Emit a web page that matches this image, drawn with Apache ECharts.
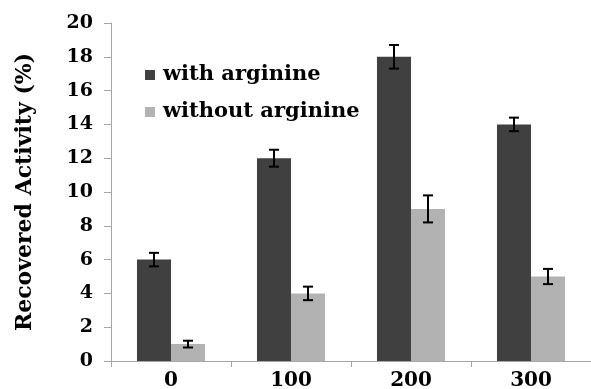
<!DOCTYPE html>
<html>
<head>
<meta charset="utf-8">
<script src="https://cdn.jsdelivr.net/npm/echarts@6/dist/echarts.min.js"></script>
<style>
  html, body { margin: 0; padding: 0; background: #fff; }
  #chart { width: 591px; height: 389px; }
</style>
</head>
<body>
<div id="chart"></div>
<script>
const categories = ["0", "100", "200", "300"];
const withArginine = [6, 12, 18, 14];
const withoutArginine = [1, 4, 9, 5];
const withArginineErr = [0.4, 0.5, 0.7, 0.4];
const withoutArginineErr = [0.2, 0.4, 0.8, 0.45];
const yTicks = [0, 2, 4, 6, 8, 10, 12, 14, 16, 18, 20];

const FONT = "'DejaVu Serif', 'Liberation Serif', serif";
const AXIS_GRAY = "#a6a6a6";
const CAT_GAP = 0.433;

// [category index, low, high] for the custom error bar series
const errData = (vals, errs) => vals.map((v, i) => [i, v - errs[i], v + errs[i]]);

// side = -1 for the left bar of the pair, +1 for the right one
const errRender = (side) => (params, api) => {
  const idx = api.value(0);
  const lo = api.coord([idx, api.value(1)]);
  const hi = api.coord([idx, api.value(2)]);
  const band = api.size([1, 0])[0];
  const barW = band * (1 - CAT_GAP) / 2;
  const cx = lo[0] + side * barW / 2;
  const cap = 5;
  const style = { stroke: "#000", lineWidth: 2 };
  return {
    type: "group",
    children: [
      { type: "line", shape: { x1: cx, y1: hi[1], x2: cx, y2: lo[1] }, style },
      { type: "line", shape: { x1: cx - cap, y1: hi[1], x2: cx + cap, y2: hi[1] }, style },
      { type: "line", shape: { x1: cx - cap, y1: lo[1], x2: cx + cap, y2: lo[1] }, style },
    ],
  };
};

const chart = echarts.init(document.getElementById("chart"));
chart.setOption({
  animation: false,
  textStyle: { fontFamily: FONT },
  grid: { left: 111, right: 0, top: 23, bottom: 28, containLabel: false, outerBoundsMode: "none" },
  legend: {
    orient: "vertical",
    left: 145,
    top: 63,
    padding: 0,
    itemWidth: 10,
    itemHeight: 10,
    itemGap: 13,
    icon: "rect",
    data: ["with arginine", "without arginine"],
    textStyle: {
      fontFamily: FONT, fontWeight: "bold", fontSize: 21, color: "#000",
      lineHeight: 24, padding: [0, 0, 0, 3],
    },
  },
  xAxis: {
    type: "category",
    data: categories,
    axisLine: { lineStyle: { color: AXIS_GRAY, width: 1 } },
    axisTick: { show: true, length: 6, lineStyle: { color: AXIS_GRAY } },
    axisLabel: { color: "#000", fontFamily: FONT, fontWeight: "bold", fontSize: 20, margin: 10 },
  },
  yAxis: {
    type: "value",
    min: yTicks[0],
    max: yTicks[yTicks.length - 1],
    interval: yTicks[1] - yTicks[0],
    name: "Recovered Activity (%)",
    nameLocation: "middle",
    nameGap: 75,
    nameRotate: 90,
    nameTextStyle: { color: "#000", fontFamily: FONT, fontWeight: "bold", fontSize: 22 },
    splitLine: { show: false },
    axisLine: { show: true, lineStyle: { color: AXIS_GRAY, width: 1 } },
    axisTick: { show: true, length: 7, lineStyle: { color: AXIS_GRAY } },
    axisLabel: { color: "#000", fontFamily: FONT, fontWeight: "bold", fontSize: 19, margin: 18 },
  },
  series: [
    {
      name: "with arginine",
      type: "bar",
      data: withArginine,
      barGap: "0%",
      barCategoryGap: (CAT_GAP * 100) + "%",
      itemStyle: { color: "#404040" },
    },
    {
      name: "without arginine",
      type: "bar",
      data: withoutArginine,
      itemStyle: { color: "#b2b2b2" },
    },
    {
      type: "custom",
      renderItem: errRender(-1),
      data: errData(withArginine, withArginineErr),
      encode: { x: 0, y: [1, 2] },
      z: 10,
    },
    {
      type: "custom",
      renderItem: errRender(1),
      data: errData(withoutArginine, withoutArginineErr),
      encode: { x: 0, y: [1, 2] },
      z: 10,
    },
  ],
});
</script>
</body>
</html>
